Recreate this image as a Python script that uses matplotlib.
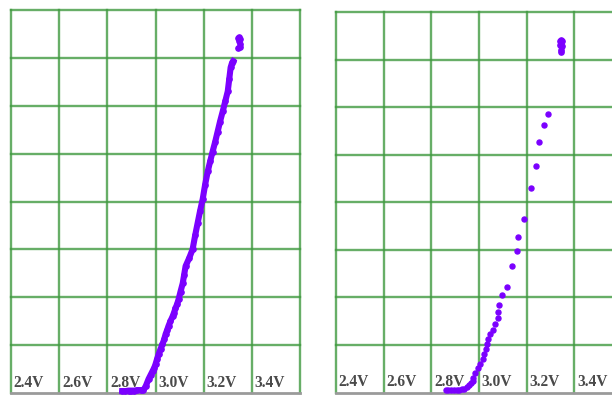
import matplotlib.pyplot as plt

# voltage axis (V) and labels shown inside each panel
v_ticks = [2.4, 2.6, 2.8, 3.0, 3.2, 3.4, 3.6]
v_labels = ["2.4V", "2.6V", "2.8V", "3.0V", "3.2V", "3.4V"]
n_rows = 8  # horizontal grid divisions (current, unlabeled)

# left panel: dense sweep (voltage, current in grid divisions)
left_v = [2.862, 2.875, 2.888, 2.900, 2.912, 2.925, 2.938, 2.950, 2.960,
          2.971, 2.980, 2.988, 2.995, 3.000, 3.006, 3.013, 3.021, 3.029,
          3.036, 3.042, 3.048, 3.054, 3.062, 3.071, 3.077, 3.083, 3.090,
          3.096, 3.104, 3.113, 3.119, 3.125, 3.140, 3.154, 3.165, 3.175,
          3.185, 3.196, 3.206, 3.217, 3.227, 3.237, 3.248, 3.258, 3.268,
          3.279, 3.290, 3.300, 3.306, 3.312, 3.318, 3.322]
left_i = [0.04, 0.04, 0.05, 0.05, 0.05, 0.06, 0.06, 0.06, 0.15,
          0.29, 0.38, 0.46, 0.53, 0.60, 0.70, 0.81, 0.92, 1.02,
          1.12, 1.23, 1.31, 1.40, 1.50, 1.60, 1.68, 1.77, 1.86,
          1.96, 2.12, 2.29, 2.47, 2.65, 2.82, 3.00, 3.30, 3.55,
          3.80, 4.05, 4.35, 4.63, 4.84, 5.04, 5.25, 5.46, 5.67,
          5.88, 6.10, 6.30, 6.55, 6.80, 6.90, 6.93]
left_top_v = [3.343, 3.348, 3.352, 3.346, 3.350, 3.344, 3.349]
left_top_i = [7.42, 7.44, 7.40, 7.36, 7.30, 7.20, 7.22]

# right panel: sparse sweep
right_v = [2.861, 2.872, 2.884, 2.895, 2.906, 2.918, 2.928, 2.937, 2.948,
           2.958, 2.966, 2.974, 2.974, 2.983, 2.995, 3.004, 3.016, 3.021,
           3.029, 3.033, 3.037, 3.046, 3.058, 3.067, 3.079, 3.079, 3.083,
           3.096, 3.117, 3.138, 3.159, 3.163, 3.188, 3.218, 3.239, 3.251,
           3.272, 3.289]
right_i = [0.06, 0.06, 0.06, 0.06, 0.06, 0.06, 0.07, 0.08, 0.12,
           0.16, 0.20, 0.25, 0.31, 0.42, 0.52, 0.60, 0.71, 0.81,
           0.92, 1.02, 1.13, 1.23, 1.31, 1.44, 1.56, 1.69, 1.83,
           2.06, 2.21, 2.65, 2.98, 3.27, 3.65, 4.29, 4.77, 5.27,
           5.63, 5.85]
right_top_v = [3.338, 3.344, 3.350, 3.341, 3.347, 3.343, 3.346]
right_top_i = [7.40, 7.42, 7.38, 7.30, 7.28, 7.20, 7.16]

grid_color = "#419a41"
dot_color = "#7b00ff"
W, H = 612, 396

fig = plt.figure(figsize=(W / 100, H / 100), dpi=100)
fig.patch.set_facecolor("white")

# panel rectangles in pixels: left x, right x, top y, bottom y
panels = [(11, 300, 10, 393), (336, 622, 12, 392.5)]


def make_panel(px, sweep_v, sweep_i, top_v, top_i, dense):
    x0, x1, y0, y1 = px
    ax = fig.add_axes([x0 / W, (H - y1) / H, (x1 - x0) / W, (y1 - y0) / H])
    ax.set_xlim(v_ticks[0], v_ticks[-1])
    ax.set_ylim(0, n_rows)
    ax.set_xticks([])
    ax.set_yticks([])
    for s in ["left", "right", "top"]:
        ax.spines[s].set_visible(False)
    ax.spines["bottom"].set_color("#9a9a9a")
    ax.spines["bottom"].set_linewidth(2)

    for v in v_ticks:
        ax.axvline(v, color=grid_color, lw=1.7, alpha=0.8, zorder=1, clip_on=False)
    for r in range(1, n_rows + 1):
        ax.axhline(r, color=grid_color, lw=1.7, alpha=0.8, zorder=1, clip_on=False)

    for v, lbl in zip(v_ticks, v_labels):
        ax.annotate(lbl, xy=(v, 0), xytext=(2.0, 1.5), textcoords="offset points",
                    ha="left", va="bottom", fontsize=11.2, color="#4a4a4a",
                    family="Liberation Serif", fontweight="bold", zorder=2)

    if dense:
        ax.plot(sweep_v, sweep_i, color=dot_color, lw=4.4, marker="o",
                markersize=3.8, zorder=3, clip_on=False)
    else:
        ax.plot(sweep_v, sweep_i, color=dot_color, lw=0, marker="o",
                markersize=3.6, zorder=3)
    ax.plot(top_v, top_i, color=dot_color, lw=0, marker="o",
            markersize=3.8, zorder=3)
    return ax


make_panel(panels[0], left_v, left_i, left_top_v, left_top_i, True)
make_panel(panels[1], right_v, right_i, right_top_v, right_top_i, False)

fig.savefig("out.png", dpi=100)
